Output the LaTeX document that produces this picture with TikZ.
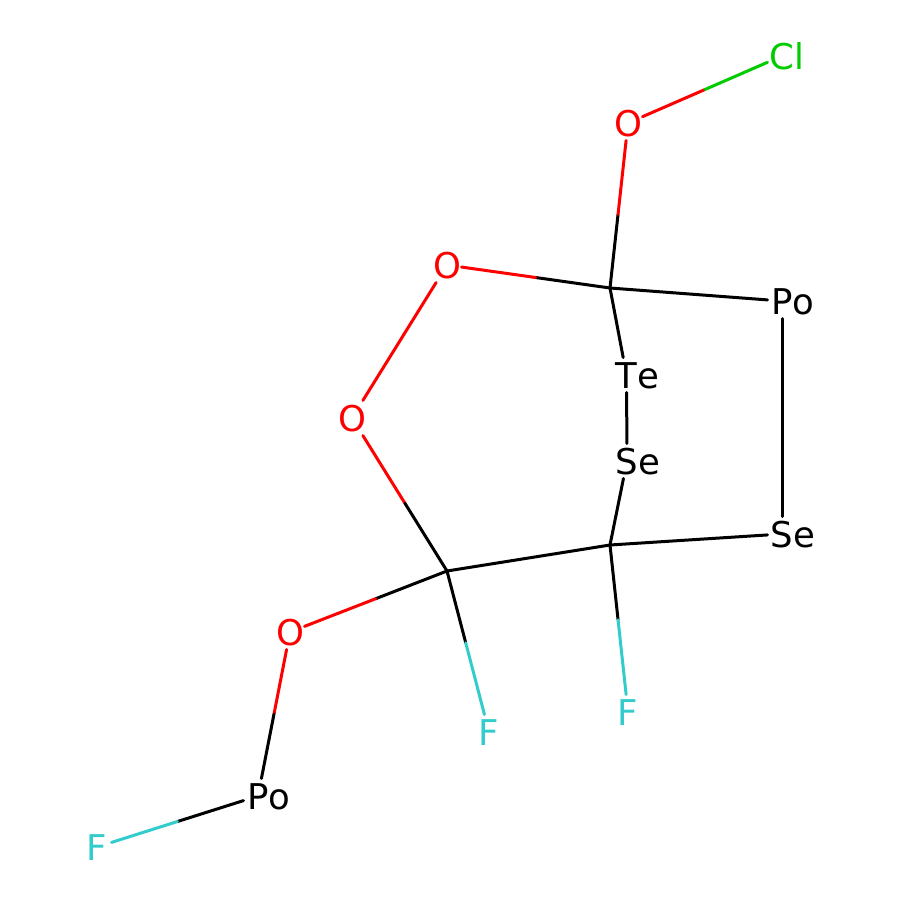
\documentclass[tikz,border=0pt]{standalone}
\usepackage{fontspec}
\setmainfont{DejaVu Sans}
\definecolor{oxy}{RGB}{255,0,0}
\definecolor{flu}{RGB}{51,204,204}
\definecolor{chl}{RGB}{0,204,0}
\tikzset{
  x=1pt,y=-1pt,
  atom/.style={inner sep=0pt,outer sep=0pt,minimum width=29pt,minimum height=35pt,font=\fontsize{35.5}{36}\selectfont,anchor=center,text height=26.5pt,text depth=0pt},
  bond/.style={line width=3pt,line cap=round}
}
\newcommand{\bnd}[4]{%
  \path (#1) -- (#3) coordinate[pos=.5] (m);
  \draw[bond,#2] (#1) -- (m);
  \draw[bond,#4] (m) -- (#3);
}
\begin{document}
\begin{tikzpicture}
\useasboundingbox (0,0) rectangle (900,900);
\fill[white] (0,0) rectangle (900,900);
\node[atom,text=chl] (cl) at (782,56) {C\rlap{l}};
\node[atom,text=oxy] (o1) at (628,123) {O};
\node[atom,text=oxy] (o2) at (447,265) {O};
\node[atom,text=oxy] (o3) at (352,418) {O};
\node[atom,text=oxy] (o4) at (290,632) {O};
\node[atom] (po1) at (782,301) {P\rlap{o}};
\node[atom] (te) at (626.5,375) {T\rlap{e}};
\node[atom] (se1) at (627,461) {S\rlap{e}};
\node[atom] (se2) at (782,534) {S\rlap{e}};
\node[atom] (po2) at (258,796) {P\rlap{o}};
\node[atom,text=flu] (f1) at (489,732) {F};
\node[atom,text=flu] (f2) at (628,712) {F};
\node[atom,text=flu] (f3) at (97,847) {F};
\coordinate (c1) at (610,288);
\coordinate (c2) at (610,545);
\coordinate (c3) at (447,571);
\bnd{o1}{oxy}{cl}{chl}
\bnd{c1}{black}{o1}{oxy}
\bnd{c1}{black}{o2}{oxy}
\draw[bond,oxy] (o2) -- (o3);
\draw[bond] (c1) -- (po1);
\draw[bond] (c1) -- (te);
\draw[bond] (te) -- (se1);
\draw[bond] (po1) -- (se2);
\draw[bond] (se1) -- (c2);
\draw[bond] (c2) -- (se2);
\draw[bond] (c2) -- (c3);
\bnd{o3}{oxy}{c3}{black}
\bnd{c3}{black}{o4}{oxy}
\bnd{c3}{black}{f1}{flu}
\bnd{c2}{black}{f2}{flu}
\bnd{o4}{oxy}{po2}{black}
\bnd{po2}{black}{f3}{flu}
\end{tikzpicture}
\end{document}
